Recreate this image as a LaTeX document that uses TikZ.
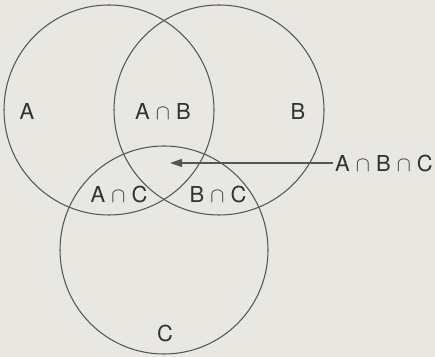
\documentclass[tikz,border=0pt]{standalone}
\usepackage{fontspec}
\setmainfont{TeX Gyre Heros}
\usepackage{tikz}
\usetikzlibrary{arrows.meta,positioning}
\usepackage{xcolor}
\definecolor{paper}{RGB}{232,231,226}
\definecolor{inkgrey}{RGB}{85,85,85}
\definecolor{textgrey}{RGB}{50,50,50}

\begin{document}
\begin{tikzpicture}[
    setcirc/.style={circle, draw=inkgrey, line width=0.6pt, minimum size=4.2cm, inner sep=0pt},
    lbl/.style={font=\fontsize{12.5}{14}\selectfont, text=textgrey, inner sep=1pt},
    arr/.style={-{Triangle[length=2.4mm,width=1.6mm]}, inkgrey, line width=0.6pt}
]
    % Paper and margins
    \fill[paper] (0,0) rectangle (8.7,7.14);
    \useasboundingbox (0,0) rectangle (8.7,7.14);

    % Sets
    \node[setcirc] (setA) at (2.18,4.94) {};
    \node[setcirc] (setB) at (4.38,4.94) {};
    \node[setcirc, minimum size=4.16cm] (setC) at (3.28,2.14) {};

    % Regions
    \node[lbl] (labA) at (0.54,4.90) {A};
    \node[lbl] (labAB) at (3.26,4.90) {A\;$\cap$\;B};
    \node[lbl] (labB) at (5.96,4.90) {B};
    \node[lbl] (labAC) at (2.38,3.26) {A\;$\cap$\;C};
    \node[lbl] (labBC) at (4.36,3.26) {B\;$\cap$\;C};
    \node[lbl] (labC) at (3.30,0.48) {C};

    % Triple intersection
    \coordinate (mid) at (3.40,3.88);
    \node[lbl, anchor=west] (labABC) at (6.66,3.88) {A\;$\cap$\;B\;$\cap$\;C};
    \draw[arr] (labABC.west) -- (mid);
\end{tikzpicture}
\end{document}
